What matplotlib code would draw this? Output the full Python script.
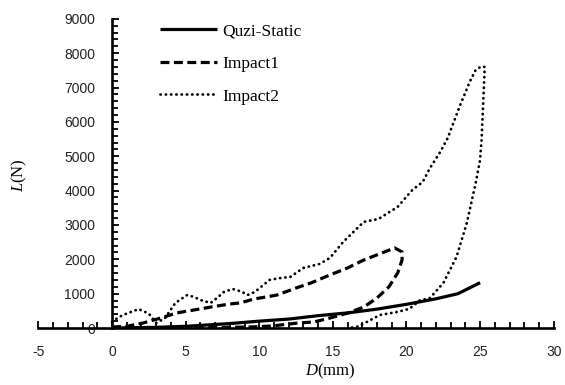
import numpy as np
import matplotlib
matplotlib.use("Agg")
import matplotlib.pyplot as plt
from matplotlib.ticker import MultipleLocator

plt.rcParams['mathtext.fontset'] = 'custom'
plt.rcParams['mathtext.it'] = 'Liberation Serif:italic'
plt.rcParams['mathtext.rm'] = 'Liberation Serif'
plt.rcParams['axes.unicode_minus'] = False

# Quzi-Static
d_static = [0, 3, 5, 8, 10, 12, 14, 16, 18, 20, 22, 23.5, 25]
l_static = [0, 20, 50, 130, 200, 260, 360, 440, 550, 690, 850, 1000, 1320]

# Impact1 (loading then unloading)
d_imp1 = [0, 1.0, 2.1, 3.3, 4.4, 5.5, 6.7, 8.0, 8.7, 9.6, 11.2, 12.6, 13.5,
          14.8, 16.0, 17.1, 18.0, 19.2, 19.7, 19.7, 19.4, 18.8, 18.0, 17.1, 16.0,
          14.8, 13.7, 12.6, 10.9, 9.4, 8.0, 6.5, 5.0]
l_imp1 = [30, 50, 145, 290, 440, 520, 610, 700, 730, 840, 960, 1180, 1310,
          1545, 1750, 1980, 2130, 2330, 2215, 1980, 1600, 1195, 875, 610, 435,
          290, 175, 145, 60, 30, 20, 10, 0]

# Impact2 (loading then unloading)
d_imp2 = [0.0, 0.4, 0.75, 1.8, 2.5, 3.0, 3.6, 4.3, 5.1, 5.6, 6.0, 6.7, 7.2, 7.6, 8.2,
          8.8, 9.2, 9.7, 10.7, 11.5, 12.1, 13.0, 14.1, 14.8, 15.7, 16.4, 17.1,
          18.1, 19.4, 20.4, 21.1, 21.6, 22.3, 22.8, 23.6, 24.3, 24.7, 25.1, 25.3,
          25.3, 25.2, 25.1, 25.0, 24.7, 24.1, 23.4, 22.5, 21.6, 20.9, 20.2, 19.4,
          18.2, 17.3, 16.6, 16.0]
l_imp2 = [175, 300, 380, 550, 420, 145, 290, 730, 960, 900, 815, 730, 900, 1050, 1135,
          1060, 960, 1050, 1400, 1460, 1485, 1750, 1865, 2040, 2505, 2800, 3090,
          3175, 3525, 4020, 4250, 4660, 5130, 5530, 6440, 7170, 7515, 7620, 7600,
          7430, 6440, 5480, 4900, 4220, 3060, 2070, 1310, 875, 800, 560, 470,
          380, 175, 30, 0]

fig = plt.figure(figsize=(5.65, 3.85), dpi=100)
ax = fig.add_axes([0.068, 0.148, 0.912, 0.803])

ax.plot(d_static, l_static, color='black', lw=2.3, solid_capstyle='butt', label='Quzi-Static')
ax.plot(d_imp1, l_imp1, color='black', lw=2.3, dashes=(2.8, 1.4), label='Impact1')
ax.plot(d_imp2, l_imp2, color='black', lw=2.0, dashes=(0.1, 1.8),
        dash_capstyle='round', label='Impact2')

ax.set_xlim(-5, 30)
ax.set_ylim(0, 9000)
for s in ['top', 'right']:
    ax.spines[s].set_visible(False)
ax.spines['left'].set_position(('data', 0))
ax.spines['left'].set_linewidth(1.9)
ax.spines['bottom'].set_linewidth(1.9)

ax.xaxis.set_major_locator(MultipleLocator(5))
ax.xaxis.set_minor_locator(MultipleLocator(1))
ax.yaxis.set_major_locator(MultipleLocator(1000))
ax.yaxis.set_minor_locator(MultipleLocator(200))
ax.tick_params(which='both', direction='in', width=1.3, colors='black')
ax.tick_params(which='major', length=5)
ax.tick_params(which='minor', length=4)
ax.tick_params(axis='y', which='major', pad=12, labelsize=10)
ax.tick_params(axis='x', which='major', pad=12, labelsize=10)
for lab in ax.get_xticklabels() + ax.get_yticklabels():
    lab.set_fontfamily('Liberation Sans')
    lab.set_color('#222222')

fig.text(0.035, 0.545, r'$\mathit{L}$(N)', rotation=90, fontsize=12,
         family='Liberation Serif', ha='center', va='center')
fig.text(0.585, 0.035, r'$\mathit{D}$(mm)', fontsize=12,
         family='Liberation Serif', ha='center', va='center')

leg = ax.legend(loc='upper left', bbox_to_anchor=(0.283, 0.94), bbox_transform=fig.transFigure,
                frameon=False, borderpad=0, borderaxespad=0,
                handlelength=3.3, handletextpad=0.3, labelspacing=0.95,
                prop={'family': 'Liberation Serif', 'size': 12.5})

fig.savefig('out.png', dpi=100)
